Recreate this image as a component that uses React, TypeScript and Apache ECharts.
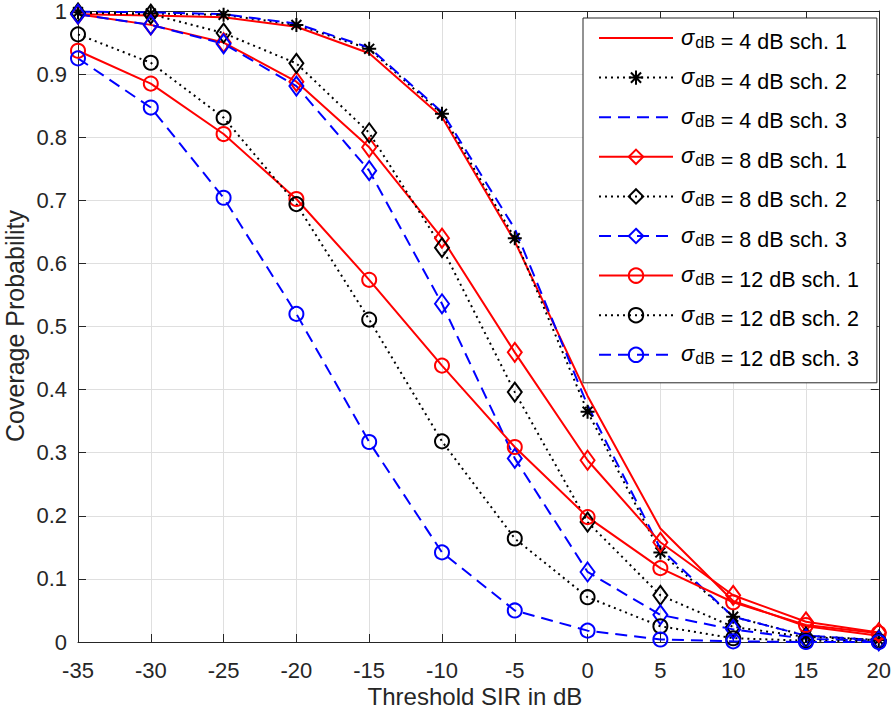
import React, { useEffect, useRef } from 'react';
import * as echarts from 'echarts';

// Threshold SIR (dB)
const thresholdSIR = [-35, -30, -25, -20, -15, -10, -5, 0, 5, 10, 15, 20];

// Coverage probability, sigma_dB = 4 dB
const cov4Sch1 = [0.995, 0.993, 0.99, 0.975, 0.933, 0.832, 0.635, 0.39, 0.18, 0.065, 0.025, 0.01];
const cov4Sch2 = [0.998, 0.996, 0.994, 0.978, 0.94, 0.837, 0.64, 0.365, 0.142, 0.04, 0.01, 0.003];
const cov4Sch3 = [0.999, 0.998, 0.995, 0.98, 0.942, 0.84, 0.655, 0.375, 0.148, 0.04, 0.01, 0.003];
// sigma_dB = 8 dB
const cov8Sch1 = [0.995, 0.978, 0.95, 0.888, 0.784, 0.64, 0.459, 0.288, 0.158, 0.074, 0.032, 0.015];
const cov8Sch2 = [0.997, 0.995, 0.965, 0.917, 0.807, 0.625, 0.396, 0.19, 0.074, 0.024, 0.008, 0.003];
const cov8Sch3 = [0.995, 0.978, 0.948, 0.881, 0.747, 0.536, 0.291, 0.111, 0.043, 0.02, 0.005, 0.002];
// sigma_dB = 12 dB
const cov12Sch1 = [0.937, 0.885, 0.805, 0.702, 0.574, 0.438, 0.309, 0.198, 0.117, 0.063, 0.027, 0.014];
const cov12Sch2 = [0.963, 0.918, 0.831, 0.694, 0.511, 0.318, 0.164, 0.071, 0.025, 0.006, 0.002, 0.001];
const cov12Sch3 = [0.925, 0.847, 0.704, 0.52, 0.317, 0.142, 0.05, 0.018, 0.004, 0.001, 0.0, 0.0];

const seriesNames = [
  'σdB = 4 dB sch. 1',
  'σdB = 4 dB sch. 2',
  'σdB = 4 dB sch. 3',
  'σdB = 8 dB sch. 1',
  'σdB = 8 dB sch. 2',
  'σdB = 8 dB sch. 3',
  'σdB = 12 dB sch. 1',
  'σdB = 12 dB sch. 2',
  'σdB = 12 dB sch. 3',
];

const xAxisTitle = 'Threshold SIR in dB';
const yAxisTitle = 'Coverage Probability';

const FONT = '"Liberation Sans", Arial, Helvetica, sans-serif';
const AXIS_COLOR = '#262626';
const RED = '#ff0000';
const BLACK = '#000000';
const BLUE = '#0000ff';
const DASH = [12, 7];
const DOT = [2, 4];
const STAR = 'path://M0,-10L0,10M-10,0L10,0M-7.07,-7.07L7.07,7.07M-7.07,7.07L7.07,-7.07';

type Spec = { values: number[]; color: string; dash: any; symbol: string | null; size: any };

const specs: Spec[] = [
  { values: cov4Sch1, color: RED, dash: 'solid', symbol: null, size: 0 },
  { values: cov4Sch2, color: BLACK, dash: DOT, symbol: STAR, size: 14 },
  { values: cov4Sch3, color: BLUE, dash: DASH, symbol: null, size: 0 },
  { values: cov8Sch1, color: RED, dash: 'solid', symbol: 'diamond', size: [14, 19] },
  { values: cov8Sch2, color: BLACK, dash: DOT, symbol: 'diamond', size: [14, 19] },
  { values: cov8Sch3, color: BLUE, dash: DASH, symbol: 'diamond', size: [14, 19] },
  { values: cov12Sch1, color: RED, dash: 'solid', symbol: 'circle', size: 14 },
  { values: cov12Sch2, color: BLACK, dash: DOT, symbol: 'circle', size: 14 },
  { values: cov12Sch3, color: BLUE, dash: DASH, symbol: 'circle', size: 14 },
];

export default function App() {
  const ref = useRef<HTMLDivElement>(null);

  useEffect(() => {
    if (!ref.current) return;
    const chart = echarts.init(ref.current, undefined, { renderer: 'svg' });

    const series = specs.map((s, i) => ({
      name: seriesNames[i],
      type: 'line',
      xAxisIndex: 0,
      yAxisIndex: 0,
      data: thresholdSIR.map((x, j) => [x, s.values[j]]),
      symbol: s.symbol ?? 'none',
      showSymbol: s.symbol != null,
      symbolSize: s.size,
      lineStyle: { color: s.color, width: 2, type: s.dash },
      itemStyle: { color: 'rgba(0,0,0,0)', borderColor: s.color, borderWidth: 2 },
      emphasis: { disabled: true },
      silent: true,
    }));

    const legendData = specs.map((s, i) =>
      s.symbol == null
        ? { name: seriesNames[i], itemStyle: { color: 'rgba(0,0,0,0)', borderColor: 'rgba(0,0,0,0)', borderWidth: 0, opacity: 0 } }
        : { name: seriesNames[i] }
    );

    const option: any = {
      animation: false,
      backgroundColor: '#ffffff',
      textStyle: { fontFamily: FONT },
      grid: { left: 78, top: 10, right: 14, bottom: 74, containLabel: false },
      xAxis: [
        {
          type: 'value',
          min: -35,
          max: 20,
          interval: 5,
          position: 'bottom',
          axisLine: { show: true, onZero: false, lineStyle: { color: AXIS_COLOR, width: 1 } },
          axisTick: { show: true, inside: true, length: 8, lineStyle: { color: AXIS_COLOR } },
          axisLabel: { show: true, color: AXIS_COLOR, fontSize: 22, fontFamily: FONT, margin: 17 },
          splitLine: { show: true, lineStyle: { color: '#dfdfdf', width: 1 } },
        },
        {
          type: 'value',
          min: -35,
          max: 20,
          interval: 5,
          position: 'top',
          axisLine: { show: true, onZero: false, lineStyle: { color: AXIS_COLOR, width: 1 } },
          axisTick: { show: true, inside: true, length: 8, lineStyle: { color: AXIS_COLOR } },
          axisLabel: { show: false },
          splitLine: { show: false },
        },
      ],
      yAxis: [
        {
          type: 'value',
          min: 0,
          max: 1,
          interval: 0.1,
          position: 'left',
          axisLine: { show: true, onZero: false, lineStyle: { color: AXIS_COLOR, width: 1 } },
          axisTick: { show: true, inside: true, length: 8, lineStyle: { color: AXIS_COLOR } },
          axisLabel: { show: true, color: AXIS_COLOR, fontSize: 22, fontFamily: FONT, margin: 11 },
          splitLine: { show: true, lineStyle: { color: '#dfdfdf', width: 1 } },
        },
        {
          type: 'value',
          min: 0,
          max: 1,
          interval: 0.1,
          position: 'right',
          axisLine: { show: true, onZero: false, lineStyle: { color: AXIS_COLOR, width: 1 } },
          axisTick: { show: true, inside: true, length: 8, lineStyle: { color: AXIS_COLOR } },
          axisLabel: { show: false },
          splitLine: { show: false },
        },
      ],
      legend: {
        show: true,
        orient: 'vertical',
        left: 583,
        top: 18,
        padding: [8, 18, 8, 15],
        itemWidth: 74,
        itemHeight: 18,
        itemGap: 7.6,
        backgroundColor: '#ffffff',
        borderColor: AXIS_COLOR,
        borderWidth: 1,
        selectedMode: false,
        data: legendData,
        formatter: (name: string) => '{s|σ}{sub|dB}{t|' + name.replace('σdB', '') + '}',
        textStyle: {
          color: BLACK,
          fontFamily: FONT,
          rich: {
            s: { fontSize: 22, fontStyle: 'italic', fontFamily: FONT, lineHeight: 24, verticalAlign: 'top', padding: [0, 1, 0, 3], color: BLACK },
            sub: { fontSize: 16, fontFamily: FONT, lineHeight: 16, verticalAlign: 'bottom', color: BLACK },
            t: { fontSize: 21.5, fontFamily: FONT, lineHeight: 24, verticalAlign: 'top', color: BLACK, height: 32 },
          },
        },
      },
      graphic: [
        {
          type: 'text',
          x: 475,
          y: 696,
          style: { text: xAxisTitle, fontSize: 24, fontFamily: FONT, fill: AXIS_COLOR, align: 'center', verticalAlign: 'middle' },
        },
        {
          type: 'text',
          x: 15,
          y: 326,
          rotation: Math.PI / 2,
          style: { text: yAxisTitle, fontSize: 25, fontFamily: FONT, fill: AXIS_COLOR, align: 'center', verticalAlign: 'middle' },
        },
      ],
      series,
    };

    chart.setOption(option);
    return () => chart.dispose();
  }, []);

  return (
    <div
      ref={ref}
      style={{ position: 'absolute', left: 0, top: 0, width: 894, height: 716, background: '#fff' }}
    />
  );
}
